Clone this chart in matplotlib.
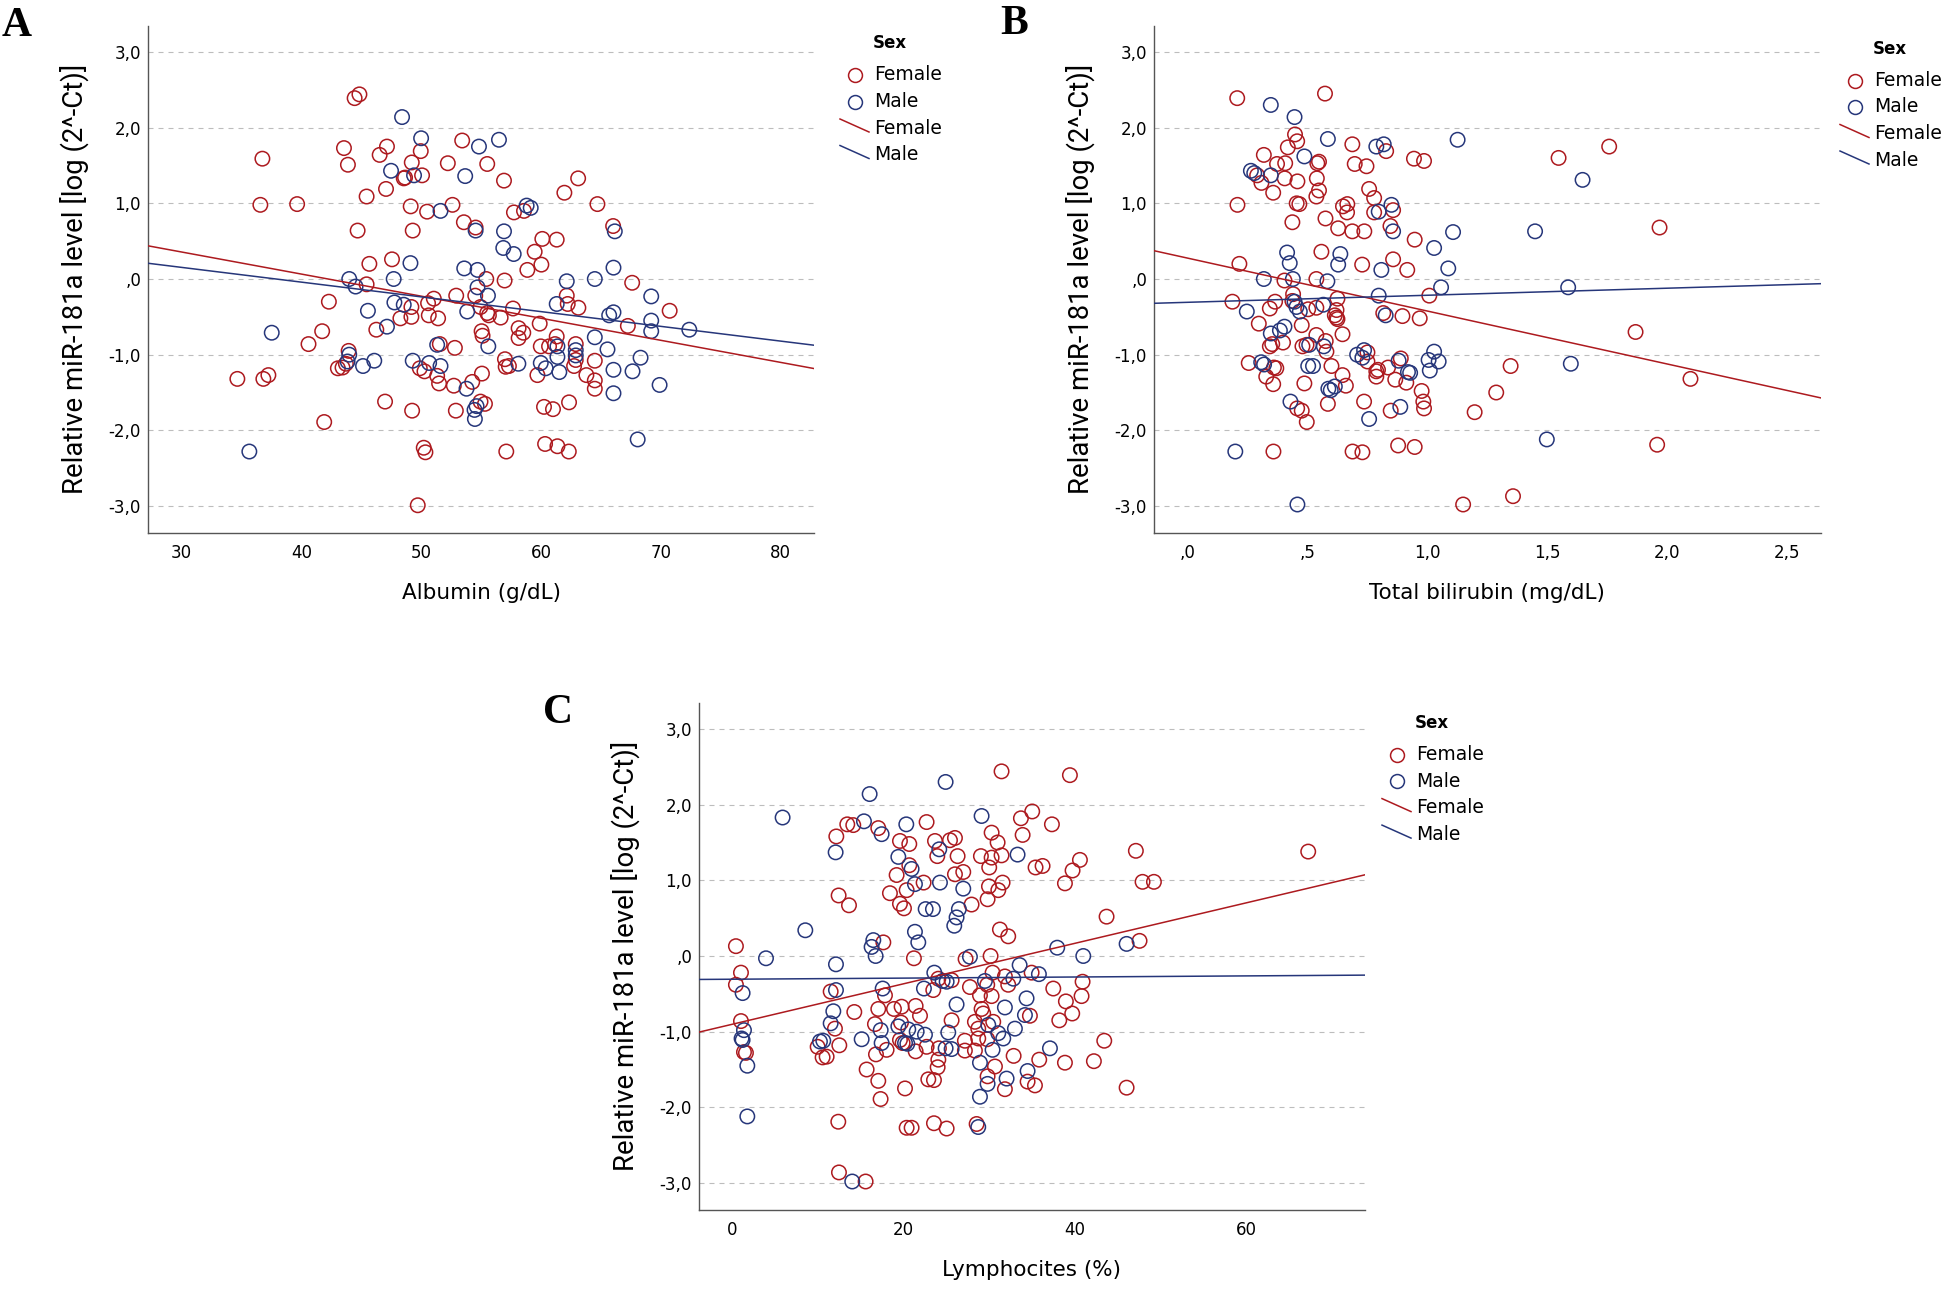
import matplotlib
matplotlib.use("Agg")
import matplotlib.pyplot as plt
from matplotlib.lines import Line2D
import numpy as np

RED = "#ad1a1f"
BLUE = "#26367a"

W, H = 1944, 1289

# ---------------- data (x, miR-181a) ----------------
alb_female = np.array([
    (36.75, 1.59), (36.58, 0.98), (39.65, 0.99), (44.45, 2.39), (44.85, 2.44), (43.56, 1.73),
    (43.89, 1.51), (45.45, 1.09), (44.70, 0.64), (45.68, 0.20), (45.45, -0.07), (42.30, -0.30),
    (41.74, -0.69), (40.60, -0.86), (43.05, -1.18), (43.44, -1.17), (43.72, -1.12), (43.95, -0.95),
    (34.66, -1.32), (36.83, -1.32), (37.25, -1.27), (41.91, -1.89),
    (49.97, 1.69), (53.43, 1.83), (47.15, 1.75), (46.54, 1.64), (49.22, 1.54), (48.66, 1.34),
    (48.55, 1.33), (50.08, 1.37), (52.23, 1.53), (55.52, 1.52), (56.92, 1.30), (47.07, 1.19),
    (49.13, 0.96), (50.50, 0.89), (52.62, 0.98), (49.30, 0.64), (53.57, 0.75), (54.55, 0.68),
    (57.75, 0.88), (58.59, 0.90), (60.12, 0.53), (59.48, 0.36), (60.04, 0.19), (58.87, 0.12),
    (47.57, 0.26), (55.44, 0.00), (56.97, -0.02), (52.93, -0.22), (54.52, -0.22), (51.06, -0.26),
    (50.58, -0.32), (49.19, -0.37), (49.19, -0.50), (48.27, -0.52), (50.64, -0.48), (51.42, -0.52),
    (54.96, -0.37), (55.52, -0.45), (55.66, -0.48), (56.64, -0.51), (57.67, -0.39), (59.90, -0.59),
    (46.26, -0.67), (55.05, -0.69), (55.13, -0.75), (58.14, -0.65), (58.53, -0.71), (58.14, -0.78),
    (51.56, -0.86), (52.82, -0.91), (59.99, -0.89), (49.89, -1.18), (50.28, -1.22), (51.34, -1.28),
    (51.50, -1.38), (52.73, -1.41), (54.27, -1.36), (55.08, -1.25), (57.00, -1.06), (57.06, -1.16),
    (57.33, -1.15), (59.71, -1.27), (46.99, -1.62), (49.25, -1.74), (52.90, -1.74), (54.96, -1.62),
    (55.33, -1.65), (60.26, -1.69), (50.22, -2.23), (50.36, -2.29), (49.72, -2.99), (57.11, -2.28),
    (60.35, -2.18), (61.38, -2.21), (62.33, -2.28),
    (63.11, 1.33), (61.96, 1.14), (64.72, 0.99), (66.03, 0.70), (61.32, 0.52), (67.62, -0.05),
    (62.16, -0.22), (62.24, -0.33), (63.13, -0.38), (70.75, -0.42), (67.26, -0.62), (61.32, -0.76),
    (61.18, -0.86), (60.68, -0.89), (62.91, -0.86), (62.91, -1.07), (62.77, -1.15), (64.50, -1.08),
    (63.80, -1.27), (64.50, -1.34), (64.50, -1.45), (62.35, -1.63), (61.01, -1.72),
])
alb_male = np.array([
    (44.00, 0.00), (44.53, -0.10), (37.53, -0.71), (45.56, -0.42), (43.86, -1.09), (44.00, -1.00),
    (45.15, -1.15), (35.66, -2.28),
    (48.41, 2.14), (50.00, 1.86), (54.83, 1.75), (56.50, 1.84), (47.49, 1.43), (49.41, 1.37),
    (53.68, 1.36), (51.62, 0.90), (54.55, 0.64), (56.92, 0.63), (58.81, 0.97), (59.15, 0.94),
    (56.86, 0.41), (57.73, 0.33), (49.11, 0.21), (47.71, 0.00), (53.60, 0.14), (54.71, 0.12),
    (54.71, -0.11), (55.58, -0.22), (47.77, -0.31), (48.55, -0.34), (53.85, -0.43), (47.15, -0.63),
    (51.34, -0.87), (55.61, -0.89), (46.09, -1.08), (49.30, -1.08), (50.67, -1.11), (51.62, -1.15),
    (53.79, -1.45), (58.12, -1.12), (59.99, -1.11), (60.40, -1.18), (54.46, -1.73), (54.63, -1.68),
    (54.49, -1.85),
    (66.17, 0.63), (66.06, 0.15), (62.16, -0.03), (64.50, 0.00), (69.21, -0.23), (61.32, -0.33),
    (65.70, -0.48), (66.06, -0.44), (69.21, -0.55), (69.21, -0.69), (72.39, -0.67), (61.38, -0.89),
    (61.38, -1.03), (61.54, -1.23), (62.91, -0.94), (62.91, -1.01), (64.50, -0.77), (65.56, -0.93),
    (66.06, -1.20), (67.65, -1.22), (68.32, -1.04), (69.91, -1.40), (66.06, -1.51), (68.08, -2.12),
])

bil_female = np.array([
    (0.207, 2.39), (0.573, 2.45), (0.448, 1.91), (0.457, 1.82), (0.418, 1.74), (0.318, 1.64),
    (0.373, 1.52), (0.407, 1.53), (0.541, 1.53), (0.548, 1.55), (0.539, 1.33), (0.548, 1.17),
    (0.537, 1.09), (0.290, 1.37), (0.308, 1.27), (0.405, 1.33), (0.458, 1.29), (0.357, 1.14),
    (0.208, 0.98), (0.455, 1.00), (0.466, 0.99), (0.575, 0.80), (0.437, 0.75), (0.558, 0.36),
    (0.216, 0.20), (0.404, -0.02), (0.537, 0.00), (0.187, -0.30), (0.365, -0.30), (0.343, -0.39),
    (0.440, -0.20), (0.437, -0.29), (0.503, -0.40), (0.537, -0.38), (0.297, -0.59), (0.476, -0.61),
    (0.398, -0.84), (0.353, -0.86), (0.343, -0.89), (0.537, -0.74), (0.479, -0.89), (0.496, -0.87),
    (0.576, -0.82), (0.579, -0.96), (0.255, -1.11), (0.360, -1.17), (0.370, -1.18), (0.328, -1.29),
    (0.357, -1.39), (0.487, -1.38), (0.585, -1.65), (0.457, -1.71), (0.476, -1.74), (0.497, -1.89),
    (0.358, -2.28), (0.688, -2.28), (0.729, -2.29), (0.878, -2.20), (0.947, -2.22), (1.149, -2.98),
    (0.687, 1.78), (0.697, 1.52), (0.746, 1.49), (0.828, 1.69), (0.944, 1.59), (0.986, 1.56),
    (0.757, 1.19), (0.778, 1.07), (0.648, 0.96), (0.666, 0.99), (0.665, 0.88), (0.778, 0.88),
    (0.857, 0.91), (0.846, 0.70), (0.628, 0.67), (0.687, 0.63), (0.737, 0.63), (0.947, 0.52),
    (0.728, 0.19), (0.857, 0.26), (0.916, 0.12), (1.008, -0.22), (0.625, -0.26), (0.621, -0.41),
    (0.614, -0.48), (0.621, -0.51), (0.625, -0.53), (0.816, -0.45), (0.896, -0.49), (0.968, -0.52),
    (0.646, -0.73), (0.750, -0.97), (0.600, -1.15), (0.646, -1.27), (0.660, -1.41), (0.736, -1.62),
    (0.750, -1.09), (0.787, -1.22), (0.794, -1.20), (0.787, -1.29), (0.836, -1.17), (0.866, -1.33),
    (0.889, -1.05), (0.912, -1.37), (0.976, -1.48), (0.983, -1.62), (0.986, -1.71), (0.847, -1.74),
    (1.547, 1.60), (1.758, 1.75), (1.968, 0.68), (1.868, -0.70), (1.347, -1.15), (1.287, -1.50),
    (1.197, -1.76), (2.097, -1.32), (1.958, -2.19), (1.357, -2.87),
])
bil_male = np.array([
    (0.347, 2.30), (0.446, 2.14), (0.585, 1.85), (0.487, 1.62), (0.264, 1.43), (0.278, 1.40),
    (0.347, 1.37), (0.415, 0.35), (0.426, 0.21), (0.318, 0.00), (0.439, 0.00), (0.583, -0.03),
    (0.247, -0.43), (0.446, -0.30), (0.454, -0.37), (0.468, -0.43), (0.566, -0.34), (0.404, -0.63),
    (0.385, -0.68), (0.347, -0.72), (0.507, -0.87), (0.568, -0.89), (0.307, -1.10), (0.319, -1.13),
    (0.503, -1.15), (0.523, -1.15), (0.587, -1.45), (0.429, -1.62), (0.199, -2.28), (0.458, -2.98),
    (0.787, 1.75), (0.818, 1.78), (1.126, 1.84), (0.797, 0.89), (0.850, 0.98), (0.857, 0.63),
    (1.107, 0.62), (1.028, 0.41), (0.637, 0.33), (0.628, 0.19), (0.808, 0.12), (1.087, 0.14),
    (1.057, -0.11), (0.797, -0.22), (0.826, -0.48), (0.707, -1.00), (0.736, -0.94), (0.729, -1.04),
    (0.614, -1.42), (0.597, -1.47), (0.757, -1.85), (0.880, -1.08), (0.919, -1.23), (0.928, -1.24),
    (1.005, -1.07), (1.028, -0.96), (1.047, -1.09), (1.010, -1.21), (0.887, -1.69),
    (1.647, 1.31), (1.449, 0.63), (1.587, -0.11), (1.598, -1.12), (1.498, -2.12),
])

lym_female = np.array([
    (0.46, 0.13), (1.05, -0.22), (0.46, -0.38), (1.05, -0.86), (1.40, -1.27), (1.63, -1.28),
    (13.46, 1.74), (14.16, 1.73), (12.18, 1.58), (17.08, 1.69), (22.72, 1.77), (19.61, 1.52),
    (20.70, 1.48), (20.70, 1.20), (19.22, 1.07), (23.70, 1.52), (23.97, 1.32), (25.45, 1.53),
    (20.39, 0.87), (22.37, 0.97), (18.44, 0.83), (19.61, 0.69), (20.08, 0.63), (12.45, 0.80),
    (13.66, 0.67), (17.67, 0.18), (21.24, -0.03), (24.09, -0.30), (23.50, -0.45), (11.52, -0.47),
    (17.86, -0.52), (14.28, -0.74), (12.02, -0.96), (17.08, -0.70), (18.91, -0.70), (19.80, -0.67),
    (21.44, -0.66), (21.95, -0.79), (19.73, -0.88), (16.69, -0.90), (18.05, -1.24), (16.81, -1.30),
    (12.53, -1.18), (10.00, -1.20), (10.58, -1.34), (11.05, -1.33), (19.61, -1.11), (19.92, -1.15),
    (21.44, -1.26), (22.72, -1.20), (24.16, -1.22), (24.09, -1.37), (24.01, -1.47), (15.72, -1.50),
    (17.08, -1.65), (17.35, -1.89), (20.20, -1.75), (22.92, -1.63), (23.58, -1.64), (12.41, -2.19),
    (20.39, -2.27), (20.97, -2.27), (23.58, -2.21), (25.06, -2.28), (12.49, -2.86), (15.60, -2.98),
    (31.47, 2.44), (39.45, 2.39), (33.73, 1.82), (35.05, 1.91), (37.35, 1.74), (30.31, 1.63),
    (31.01, 1.50), (33.93, 1.60), (26.03, 1.56), (26.34, 1.32), (29.06, 1.32), (30.31, 1.30),
    (31.47, 1.33), (30.03, 1.17), (35.44, 1.17), (36.26, 1.19), (40.62, 1.27), (39.76, 1.13),
    (38.87, 0.96), (26.03, 1.08), (27.00, 1.11), (30.00, 0.92), (31.09, 0.87), (31.59, 0.97),
    (29.84, 0.75), (27.97, 0.68), (43.73, 0.52), (31.28, 0.35), (32.25, 0.26), (27.27, -0.04),
    (30.19, 0.00), (34.98, -0.22), (30.42, -0.22), (31.86, -0.27), (32.25, -0.38), (29.80, -0.38),
    (27.78, -0.41), (25.64, -0.32), (28.95, -0.52), (30.31, -0.53), (37.51, -0.43), (40.93, -0.34),
    (40.81, -0.53), (38.98, -0.60), (39.72, -0.76), (34.78, -0.79), (38.21, -0.85), (29.14, -0.70),
    (29.33, -0.76), (25.64, -0.85), (28.36, -0.87), (28.75, -0.96), (30.50, -0.87), (28.75, -1.09),
    (29.80, -1.10), (27.19, -1.12), (27.19, -1.25), (28.36, -1.25), (43.46, -1.12), (32.88, -1.32),
    (35.87, -1.37), (38.87, -1.41), (42.25, -1.39), (30.70, -1.46), (34.51, -1.66), (35.37, -1.71),
    (29.84, -1.59), (31.86, -1.76), (28.56, -2.22),
    (47.15, 1.39), (47.93, 0.98), (49.26, 0.98), (67.27, 1.38), (47.58, 0.20), (46.07, -1.74),
])
lym_male = np.array([
    (1.24, -0.49), (3.97, -0.03), (1.40, -0.98), (1.12, -1.09), (1.24, -1.11), (1.79, -1.45),
    (1.79, -2.12),
    (5.91, 1.83), (16.07, 2.14), (24.94, 2.30), (15.41, 1.78), (12.10, 1.37), (17.47, 1.61),
    (20.35, 1.74), (19.42, 1.31), (20.97, 1.15), (24.20, 1.41), (21.36, 0.95), (24.28, 0.97),
    (22.61, 0.62), (23.46, 0.62), (8.56, 0.34), (21.36, 0.32), (21.75, 0.18), (16.50, 0.21),
    (16.30, 0.12), (16.77, 0.00), (12.14, -0.11), (23.62, -0.22), (24.59, -0.33), (25.06, -0.34),
    (22.41, -0.43), (12.14, -0.45), (17.59, -0.43), (11.83, -0.73), (11.52, -0.89), (19.42, -0.93),
    (20.58, -0.97), (21.56, -1.00), (22.53, -1.04), (17.36, -0.98), (15.14, -1.10), (17.47, -1.15),
    (10.27, -1.13), (10.66, -1.12), (20.20, -1.15), (20.47, -1.16), (24.94, -1.22), (14.04, -2.98),
    (29.14, 1.85), (33.34, 1.34), (27.00, 0.89), (26.49, 0.62), (26.22, 0.51), (25.95, 0.40),
    (37.97, 0.11), (41.01, 0.00), (27.78, -0.01), (33.58, -0.12), (35.83, -0.24), (32.84, -0.30),
    (29.53, -0.33), (34.39, -0.56), (34.20, -0.78), (31.86, -0.68), (26.22, -0.64), (29.92, -0.91),
    (31.09, -1.02), (31.67, -1.09), (33.03, -0.96), (25.25, -1.01), (25.64, -1.23), (30.42, -1.24),
    (37.12, -1.22), (28.95, -1.41), (34.51, -1.52), (32.06, -1.62), (29.84, -1.69), (28.95, -1.86),
    (28.75, -2.26), (46.07, 0.16),
])

# fitted lines (intercept, slope) as drawn in the figure
fit_alb = {"Female": (1.232, -0.02917), "Male": (0.738, -0.01948)}
fit_bil = {"Female": (0.276, -0.6996), "Male": (-0.308, 0.0932)}
fit_lym = {"Female": (-0.903, 0.02674), "Male": (-0.307, 0.000733)}

y_ticks = [-3, -2, -1, 0, 1, 2, 3]
y_ticklabels = ["-3,0", "-2,0", "-1,0", ",0", "1,0", "2,0", "3,0"]
alb_ticks = [30, 40, 50, 60, 70, 80]
alb_ticklabels = ["30", "40", "50", "60", "70", "80"]
bil_ticks = [0, 0.5, 1.0, 1.5, 2.0, 2.5]
bil_ticklabels = [",0", ",5", "1,0", "1,5", "2,0", "2,5"]
lym_ticks = [0, 20, 40, 60]
lym_ticklabels = ["0", "20", "40", "60"]

ylabel = "Relative miR-181a level [log (2^-Ct)]"

fig = plt.figure(figsize=(W / 100, H / 100), dpi=100)


def fx(px):
    return px / W


def fy(py):
    return 1 - py / H


def panel(rect, fem, mal, fits, xlim, ticks, ticklabels, xlabel):
    ax = fig.add_axes(rect)
    ax.set_xlim(*xlim)
    ax.set_ylim(-3.35, 3.35)
    ax.set_axisbelow(True)
    ax.yaxis.grid(True, color="#bdbdbd", linestyle=(0, (4.5, 4.5)), linewidth=0.8)
    ax.scatter(fem[:, 0], fem[:, 1], s=108, facecolors="none", edgecolors=RED, linewidths=1.1, zorder=3)
    ax.scatter(mal[:, 0], mal[:, 1], s=108, facecolors="none", edgecolors=BLUE, linewidths=1.1, zorder=3)
    xs = np.array(xlim)
    for sex, col in (("Female", RED), ("Male", BLUE)):
        b0, b1 = fits[sex]
        ax.plot(xs, b0 + b1 * xs, color=col, lw=1.1, zorder=4)
    for s in ("top", "right"):
        ax.spines[s].set_visible(False)
    for s in ("left", "bottom"):
        ax.spines[s].set_color("#555555")
        ax.spines[s].set_linewidth(1.0)
    ax.set_yticks(y_ticks)
    ax.set_yticklabels(y_ticklabels)
    ax.set_xticks(ticks)
    ax.set_xticklabels(ticklabels)
    ax.tick_params(axis="y", length=0, pad=5, labelsize=12)
    ax.tick_params(axis="x", length=0, pad=8, labelsize=12)
    ax.set_xlabel(xlabel, fontsize=15.5)
    ax.xaxis.set_label_coords(0.5, -0.10)
    ax.set_ylabel(ylabel, fontsize=19.8, family="Roboto")
    ax.yaxis.set_label_coords(-0.088, 0.5)
    return ax


def legend_at(tx, ty):
    fig.text(fx(tx + 15.5), fy(ty - 32), "Sex", weight="bold", size=12, ha="center", va="center")
    labels = ["Female", "Male", "Female", "Male"]
    cols = [RED, BLUE, RED, BLUE]
    for i, (lab, col) in enumerate(zip(labels, cols)):
        yc = ty + i * 26.5
        fig.text(fx(tx), fy(yc), lab, size=13.5, ha="left", va="center")
        if i < 2:
            fig.add_artist(Line2D([fx(tx - 19)], [fy(yc)], marker="o", ms=10, mfc="none",
                                  mec=col, mew=1.1, transform=fig.transFigure))
        else:
            fig.add_artist(Line2D([fx(tx - 34), fx(tx - 5)], [fy(yc - 9), fy(yc + 4)],
                                  color=col, lw=1.1, transform=fig.transFigure))


panel([148 / W, fy(532.5), 666 / W, 507 / H], alb_female, alb_male, fit_alb,
      (27.2, 82.8), alb_ticks, alb_ticklabels, "Albumin (g/dL)")
panel([1154 / W, fy(532.5), 666.7 / W, 507 / H], bil_female, bil_male, fit_bil,
      (-0.14, 2.64), bil_ticks, bil_ticklabels, "Total bilirubin (mg/dL)")
panel([699 / W, fy(1209.5), 666 / W, 507 / H], lym_female, lym_male, fit_lym,
      (-3.85, 73.9), lym_ticks, lym_ticklabels, "Lymphocites (%)")

legend_at(874, 75)
legend_at(1874, 80.5)
legend_at(1416, 754.6)

for lab, x, y in (("A", 2, 36), ("B", 1000, 34), ("C", 543, 723)):
    fig.text(fx(x), fy(y), lab, family="Liberation Serif", weight="bold", size=30,
             ha="left", va="baseline")

fig.savefig("out.png", dpi=100)
